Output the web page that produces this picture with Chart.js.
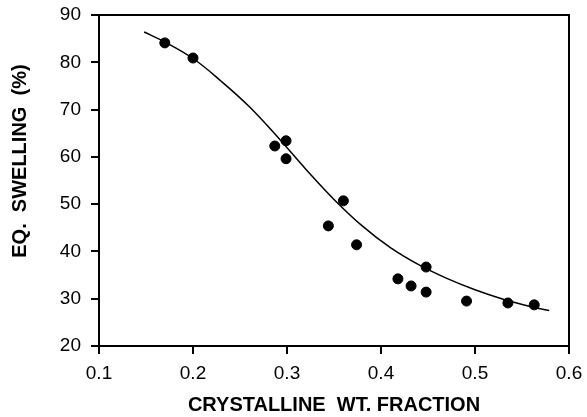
<!DOCTYPE html>
<html>
<head>
<meta charset="utf-8">
<script src="https://cdn.jsdelivr.net/npm/chart.js@4/dist/chart.umd.min.js"></script>
<style>
    html, body { margin: 0; padding: 0; background: #fff; }
    #wrap { width: 587px; height: 417px; }
</style>
</head>
<body>
<div id="wrap"><canvas id="swellChart" width="587" height="417"></canvas></div>
<script>
// measured points
const fractionX = [0.170, 0.200, 0.287, 0.299, 0.299, 0.344, 0.360, 0.374, 0.418, 0.432, 0.448, 0.448, 0.491, 0.535, 0.563];
const swellingY = [84.1, 80.9, 62.3, 63.4, 59.6, 45.4, 50.7, 41.4, 34.2, 32.7, 36.7, 31.4, 29.5, 29.1, 28.7];

// fitted curve
const curveX = [0.148, 0.170, 0.200, 0.230, 0.260, 0.290, 0.320, 0.350, 0.380, 0.410, 0.440, 0.470, 0.500, 0.530, 0.560, 0.579];
const curveY = [86.4, 84.3, 80.8, 76.0, 70.6, 64.2, 57.4, 51.0, 45.4, 40.8, 37.2, 34.3, 31.9, 29.9, 28.3, 27.5];

const xTicks = [0.1, 0.2, 0.3, 0.4, 0.5, 0.6];
const yTicks = [20, 30, 40, 50, 60, 70, 80, 90];

const fontFamily = '"Liberation Sans", Arial, Helvetica, sans-serif';

const frameBox = {
    id: 'frameBox',
    afterDraw(chart) {
        const { ctx, chartArea: a } = chart;
        ctx.save();
        ctx.strokeStyle = '#000';
        ctx.lineWidth = 2;
        ctx.strokeRect(a.left, a.top, a.right - a.left, a.bottom - a.top);
        ctx.restore();
    },
};

// keep the plot box where the reference has it
function noPad(s) {
    s.paddingTop = 0;
    s.paddingBottom = 0;
    s.paddingLeft = 0;
    s.paddingRight = 0;
}

const tickAxis = {
    grid: {
        drawOnChartArea: false,
        drawTicks: true,
        tickLength: 8,
        color: '#000',
        lineWidth: 2,
    },
    border: { display: true, color: '#000', width: 2 },
};

new Chart(document.getElementById('swellChart'), {
    type: 'scatter',
    data: {
        datasets: [
            {
                label: 'fit',
                data: curveX.map((x, i) => ({ x, y: curveY[i] })),
                showLine: true,
                borderColor: '#000',
                borderWidth: 1.5,
                pointRadius: 0,
                tension: 0.4,
            },
            {
                label: 'data',
                data: fractionX.map((x, i) => ({ x, y: swellingY[i] })),
                backgroundColor: '#000',
                borderColor: '#000',
                pointRadius: 5,
                pointHoverRadius: 5,
            },
        ],
    },
    options: {
        responsive: false,
        animation: false,
        layout: { padding: { top: 15, right: 18, left: 0, bottom: 0 } },
        plugins: {
            legend: { display: false },
            tooltip: { enabled: false },
        },
        scales: {
            x: {
                ...tickAxis,
                type: 'linear',
                min: 0.1,
                max: 0.6,
                afterBuildTicks: (s) => { s.ticks = xTicks.map(v => ({ value: v })); },
                afterFit: (s) => { s.height = 71; noPad(s); },
                ticks: {
                    color: '#000',
                    padding: 8,
                    font: { family: fontFamily, size: 19 },
                    callback: (v) => v.toFixed(1),
                },
                title: {
                    display: true,
                    text: 'CRYSTALLINE  WT. FRACTION',
                    color: '#000',
                    font: { family: fontFamily, size: 20, weight: 'bold' },
                    padding: { top: 2, bottom: 0 },
                },
            },
            y: {
                ...tickAxis,
                min: 20,
                max: 90,
                afterBuildTicks: (s) => { s.ticks = yTicks.map(v => ({ value: v })); },
                afterFit: (s) => { s.width = 99; noPad(s); },
                ticks: {
                    color: '#000',
                    padding: 10,
                    font: { family: fontFamily, size: 19 },
                },
                title: {
                    display: true,
                    text: '       EQ.  SWELLING  (%)',
                    color: '#000',
                    font: { family: fontFamily, size: 20, weight: 'bold' },
                    padding: { top: 8, bottom: 0 },
                },
            },
        },
    },
    plugins: [frameBox],
});
</script>
</body>
</html>
